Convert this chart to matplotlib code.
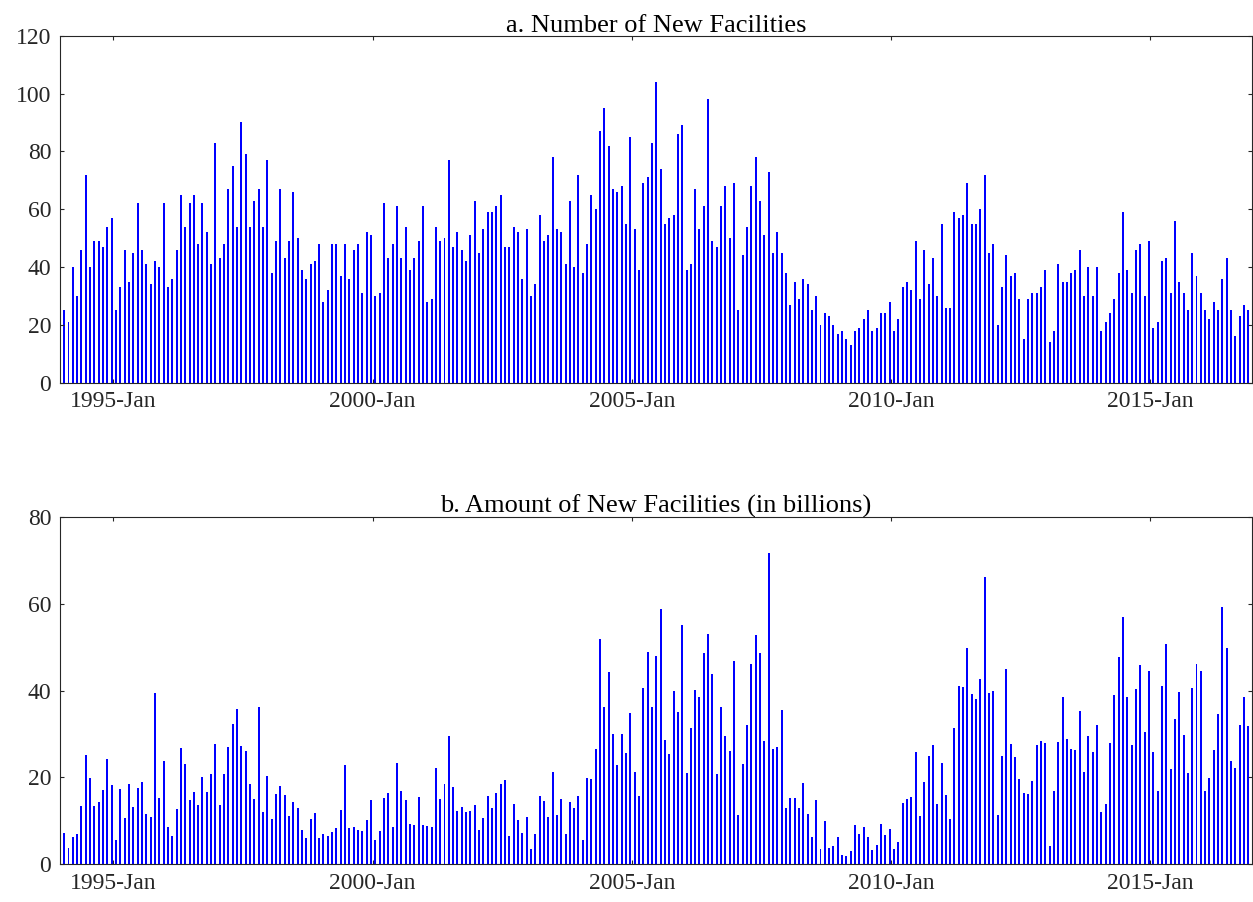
import matplotlib
matplotlib.use("Agg")
import matplotlib.pyplot as plt
import numpy as np

# monthly data, 1994-Jan .. 2016-Dec
tick_labels = ["1995-Jan", "2000-Jan", "2005-Jan", "2010-Jan", "2015-Jan"]

number = [
    25, 21, 40, 30, 46, 72, 40, 49, 49, 47, 54, 57,
    25, 33, 46, 35, 45, 62, 46, 41, 34, 42, 40, 62,
    33, 36, 46, 65, 54, 62, 65, 48, 62, 52, 41, 83,
    43, 48, 67, 75, 54, 90, 79, 54, 63, 67, 54, 77,
    38, 49, 67, 43, 49, 66, 50, 39, 36, 41, 42, 48,
    28, 32, 48, 48, 37, 48, 36, 46, 48, 31, 52, 51,
    30, 31, 62, 43, 48, 61, 43, 54, 39, 43, 49, 61,
    28, 29, 54, 49, 50, 77, 47, 52, 46, 42, 51, 63,
    45, 53, 59, 59, 61, 65, 47, 47, 54, 52, 36, 53,
    30, 34, 58, 49, 51, 78, 53, 52, 41, 63, 40, 72,
    38, 48, 65, 60, 87, 95, 82, 67, 66, 68, 55, 85,
    53, 39, 69, 71, 83, 104, 74, 55, 57, 58, 86, 89,
    39, 41, 67, 53, 61, 98, 49, 47, 61, 68, 50, 69,
    25, 44, 54, 68, 78, 63, 51, 73, 45, 52, 45, 38,
    27, 35, 29, 36, 34, 25, 30, 20, 24, 23, 20, 17,
    18, 15, 13, 18, 19, 22, 25, 18, 19, 24, 24, 28,
    18, 22, 33, 35, 32, 49, 29, 46, 34, 43, 30, 55,
    26, 26, 59, 57, 58, 69, 55, 55, 60, 72, 45, 48,
    20, 33, 44, 37, 38, 29, 15, 29, 31, 31, 33, 39,
    14, 18, 41, 35, 35, 38, 39, 46, 30, 40, 30, 40,
    18, 21, 24, 29, 38, 59, 39, 31, 46, 48, 30, 49,
    19, 21, 42, 43, 31, 56, 35, 31, 25, 45, 37, 31,
    25, 22, 28, 25, 36, 43, 25, 16, 23, 27, 25, 8,
]

amount = [
    7.2, 3.8, 6.3, 7.0, 13.4, 25.2, 19.9, 13.4, 14.4, 17.1, 24.3, 18.3,
    5.6, 17.4, 10.7, 18.4, 13.2, 17.6, 19.0, 11.6, 11.0, 39.5, 15.3, 23.7,
    8.6, 6.5, 12.7, 26.8, 23.1, 14.9, 16.7, 13.7, 20.1, 16.7, 20.8, 27.7,
    13.7, 20.8, 27.0, 32.3, 35.8, 27.3, 26.1, 18.5, 15.1, 36.3, 12.1, 20.4,
    10.4, 16.2, 18.0, 16.0, 11.1, 14.4, 13.0, 7.9, 6.1, 10.4, 11.8, 6.1,
    7.0, 6.6, 7.5, 8.4, 12.5, 22.9, 8.4, 8.6, 7.9, 7.6, 10.2, 14.8,
    5.6, 7.7, 15.3, 16.4, 8.7, 23.4, 17.0, 14.8, 9.3, 9.1, 15.5, 9.1,
    8.8, 8.6, 22.2, 15.1, 18.5, 29.6, 17.8, 12.3, 13.2, 12.1, 12.3, 13.7,
    7.8, 10.7, 15.7, 13.0, 16.4, 18.6, 19.5, 6.5, 13.9, 10.2, 7.2, 10.8,
    3.5, 7.0, 15.7, 14.6, 10.9, 21.2, 11.4, 15.1, 7.0, 14.4, 13.0, 15.7,
    5.5, 19.9, 19.7, 26.6, 51.9, 36.3, 44.3, 30.0, 22.9, 30.0, 25.7, 34.9,
    21.3, 15.7, 40.6, 48.9, 36.3, 48.0, 58.8, 28.6, 25.4, 39.9, 35.1, 55.1,
    21.0, 31.4, 40.2, 38.6, 48.7, 53.1, 43.9, 20.8, 36.3, 29.6, 26.1, 46.9,
    11.4, 23.1, 32.1, 46.2, 52.8, 48.7, 28.4, 71.7, 26.6, 27.0, 35.6, 13.0,
    15.3, 15.3, 13.0, 18.7, 11.6, 6.3, 14.8, 3.5, 10.0, 3.8, 4.2, 6.3,
    2.2, 1.9, 3.1, 9.1, 7.0, 8.6, 6.3, 3.3, 4.5, 9.3, 6.8, 8.1,
    3.5, 5.1, 14.1, 15.1, 15.5, 25.9, 11.1, 19.0, 25.0, 27.5, 13.9, 23.3,
    16.0, 10.4, 31.4, 41.1, 40.9, 49.8, 39.2, 38.1, 42.7, 66.2, 39.5, 39.9,
    11.4, 25.0, 45.0, 27.8, 24.7, 19.7, 16.4, 16.2, 19.2, 27.5, 28.5, 28.0,
    4.2, 17.0, 28.2, 38.6, 28.9, 26.6, 26.4, 35.3, 21.3, 29.6, 25.9, 32.1,
    12.1, 13.9, 28.0, 39.0, 47.8, 57.0, 38.6, 27.5, 40.4, 45.9, 30.5, 44.5,
    25.9, 16.9, 41.1, 50.8, 22.0, 33.5, 39.7, 29.8, 21.0, 40.6, 46.2, 44.5,
    17.0, 19.9, 26.3, 34.6, 59.3, 49.9, 23.8, 22.2, 32.1, 38.6, 31.9, 10.6,
]

months = np.arange(len(number))
tick_pos = [11.35 + 60 * k for k in range(len(tick_labels))]

plt.rcParams["font.family"] = ["Liberation Serif", "DejaVu Serif"]

fig = plt.figure(figsize=(12.53, 9.02), dpi=100)
ax1 = fig.add_axes([0.0476, 0.5757, 0.9518, 0.3847])
ax2 = fig.add_axes([0.0476, 0.0418, 0.9518, 0.3850])

panels = [
    (ax1, number, 120, "a. Number of New Facilities"),
    (ax2, amount, 80, "b. Amount of New Facilities (in billions)"),
]

for ax, vals, ymax, title in panels:
    ax.bar(months, vals, width=0.46, color="#0000ff", linewidth=0)
    ax.set_xlim(-1.05, 274.9)
    ax.set_ylim(0, ymax)
    ax.set_yticks(np.arange(0, ymax + 1, 20))
    ax.set_xticks(tick_pos)
    ax.set_xticklabels(tick_labels)
    ax.tick_params(direction="in", top=True, right=True, length=3,
                   colors="#262626", labelsize=17, pad=6)
    for s in ax.spines.values():
        s.set_color("#262626")
        s.set_linewidth(0.8)
    ax.set_title(title, fontsize=19, pad=3, color="black")

fig.savefig("out.png", dpi=100)
